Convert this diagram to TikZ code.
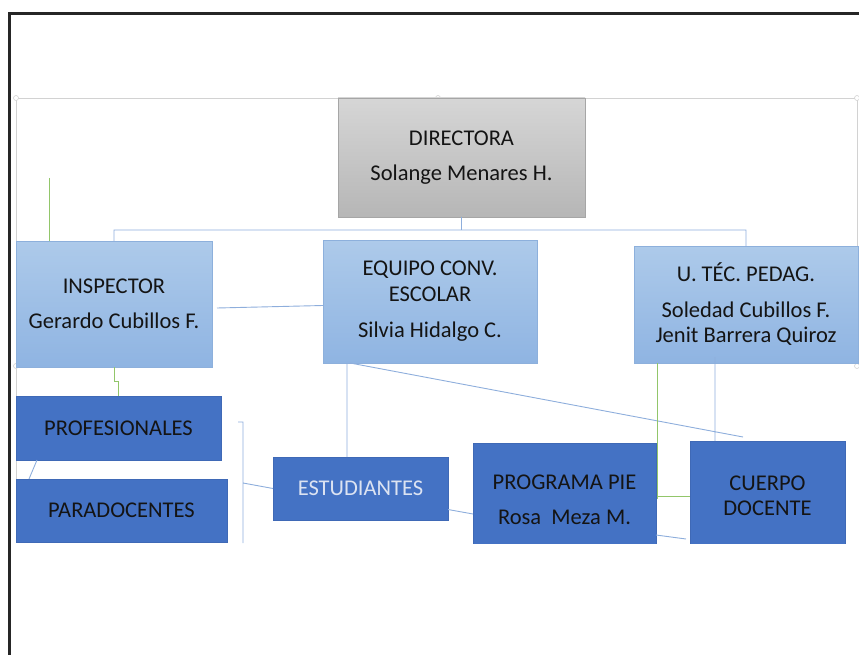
\documentclass[tikz,border=0pt]{standalone}
\usepackage{fontspec}
\setmainfont{Carlito}
\usepackage{xcolor}
\usetikzlibrary{positioning}

\definecolor{dirtop}{HTML}{D6D6D6}
\definecolor{dirbot}{HTML}{B6B6B6}
\definecolor{dirline}{HTML}{A6A6A6}
\definecolor{midtop}{HTML}{ADCAEA}
\definecolor{midbot}{HTML}{8FB4E2}
\definecolor{midline}{HTML}{8DB0DC}
\definecolor{lowfill}{HTML}{4472C4}
\definecolor{lowline}{HTML}{3F69B6}
\definecolor{txtdark}{HTML}{141414}
\definecolor{txtlight}{HTML}{DCE3F2}
\definecolor{connblue}{HTML}{8EAEDC}
\definecolor{conngreen}{HTML}{92C66A}
\definecolor{selgray}{HTML}{D2D2D2}

\begin{document}
\begin{tikzpicture}[x=1pt,y=-1pt]
		\tikzset{
			box/.style= {draw, rectangle, align=center, inner sep=2pt, outer sep=0pt, anchor=north west,
				font=\fontsize{22.5}{25.5}\selectfont, text=txtdark},
			topbox/.style = {box, draw=dirline, top color=dirtop, bottom color=dirbot},
			midbox/.style = {box, draw=midline, top color=midtop, bottom color=midbot},
			lowbox/.style = {box, draw=lowline, fill=lowfill},
			conn/.style = {draw=connblue, line width=0.9pt},
			gconn/.style = {draw=conngreen, line width=0.9pt},
		}
		\useasboundingbox (0,0) rectangle (859,655);

		%frame
		\draw[line width=3pt, black!85] (9,655) -- (9,14) -- (859,14);
		%selection box of the chart
		\draw[selgray, line width=0.8pt] (16,530) -- (16,98) -- (859,98);
		\draw[selgray, line width=0.8pt] (857,98) -- (857,368);
		\foreach \hx/\hy in {16/98, 438/98, 857/98, 16/366, 857/366}
			\draw[selgray, fill=white, line width=0.6pt] (\hx,\hy) circle (2.5pt);

		%nodes
		\node (dir) [topbox, minimum width=247pt, minimum height=119pt] at (338,98)
					{DIRECTORA\\[10pt]Solange Menares H.};
		\node (insp) [midbox, minimum width=196pt, minimum height=126pt] at (16,241)
					{INSPECTOR\\[10pt]Gerardo Cubillos F.};
		\node (conv) [midbox, minimum width=214pt, minimum height=123pt] at (323,240)
					{EQUIPO CONV.\\ESCOLAR\\[11pt]Silvia Hidalgo C.};
		\node (utp) [midbox, minimum width=224pt, minimum height=117pt] at (634,246)
					{U. TÉC. PEDAG.\\[10pt]Soledad Cubillos F.\\Jenit Barrera Quiroz};
		%bottom row, cut off at the lower edge of the chart
		\begin{scope}
			\clip (0,0) rectangle (859,543);
			\node (prof) [lowbox, minimum width=205pt, minimum height=64pt] at (16,396)
						{PROFESIONALES};
			\node (para) [lowbox, minimum width=211pt, minimum height=63pt] at (16,479)
						{PARADOCENTES};
			\node (estu) [lowbox, text=txtlight, minimum width=175pt, minimum height=63pt] at (273,457)
						{ESTUDIANTES};
			\node (pie) [lowbox, minimum width=183pt, minimum height=114pt] at (473,443)
						{PROGRAMA PIE\\[10pt]Rosa\ \ Meza M.};
			\node (doc) [lowbox, minimum width=155pt, minimum height=110pt] at (690,441)
						{CUERPO\\DOCENTE};
		\end{scope}

		\coordinate (gtop) at (49,178);      %% loose green stub over inspector
		\coordinate (brtop) at (243,422);    %% bracket right of profesionales
		\coordinate (brbot) at (243,543);
		\coordinate (brmid) at (243,483);

		\path[conn] (dir.south) -- ++(0,13) -| (insp.north)
					(dir.south) -- ++(0,13) -| (utp.north)
					([yshift=-4pt]insp.east) ++(5,0) -- ([yshift=-4pt]conv.west)
					([xshift=24pt]conv.south west) -- ([xshift=24pt]conv.south west |- estu.north)
					([xshift=27pt]conv.south west) -- ([xshift=53pt,yshift=4pt]doc.north west)
					([xshift=81pt,yshift=6pt]utp.south west) -- ([xshift=81pt]utp.south west |- doc.north)
					([xshift=21pt]prof.south west) -- ([xshift=13pt]para.north west)
					([xshift=-5pt]brtop) -- (brtop) -- (brbot)
					(brmid) -- (estu.west)
					([yshift=-21pt]estu.east) -- ([yshift=-71pt]pie.north west)
					([yshift=-92pt]pie.north east) -- ([xshift=-4pt,yshift=-98pt]doc.north west);
		\path[gconn] (gtop) -- (gtop |- insp.north)
					(insp.south) -- ++(0,14) -| (prof.north)
					([xshift=23pt]utp.south west) -- ++(0,136)
					([xshift=23pt]utp.south west |- doc.west) -- (doc.west);

	\end{tikzpicture}
\end{document}
